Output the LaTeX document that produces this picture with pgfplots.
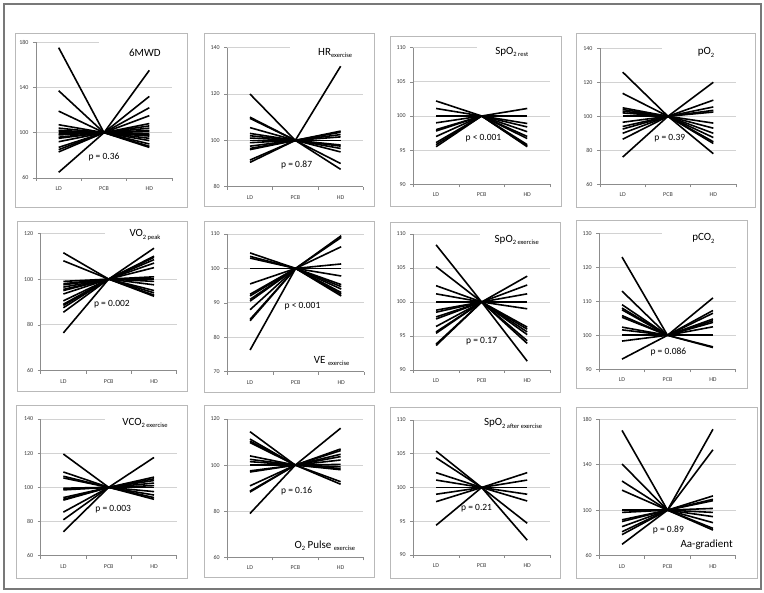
\documentclass[border=0pt]{standalone}
\usepackage{pgfplots}
\pgfplotsset{compat=1.18}
\usepackage{fontspec}
\setmainfont{Carlito}
\definecolor{axgray}{RGB}{140,140,140}
\definecolor{gridgray}{RGB}{210,210,210}
\definecolor{boxgray}{RGB}{185,185,185}
\definecolor{frame}{RGB}{120,120,120}
\definecolor{ticktext}{RGB}{60,60,60}
\newcommand{\sub}[1]{\raisebox{-0.45ex}{\fontsize{6.5}{7}\selectfont #1}}
\newcommand{\lines}[2]{%
  \pgfplotsinvokeforeach{#1}{\addplot[black, solid, line width=1.6pt, mark=none] coordinates {(1,##1) (2,100)};}%
  \pgfplotsinvokeforeach{#2}{\addplot[black, solid, line width=1.6pt, mark=none] coordinates {(2,100) (3,##1)};}}
\tikzset{
  pval/.style={font=\fontsize{9.5}{11}\selectfont},
  ttl/.style={font=\fontsize{11}{12}\selectfont},
}
\pgfplotsset{
  panel/.style={
    scale only axis, width=136pt, height=136pt, anchor=north west,
    xmin=0.5, xmax=3.5, xtick={1,2,3}, xticklabels={LD,PCB,HD},
    minor xtick={0.5,1.5,2.5,3.5},
    major x tick style={draw=none},
    minor x tick style={axgray, line width=0.6pt},
    minor tick length=3pt,
    y tick style={axgray, line width=0.6pt},
    major tick length=3pt,
    tick align=outside,
    axis x line*=bottom, axis y line*=left,
    axis line style={axgray, line width=0.8pt, -},
    ymajorgrids, grid style={gridgray, line width=0.8pt},
    /pgf/number format/assume math mode=true,
    ticklabel style={font=\fontsize{6}{7}\selectfont, text=ticktext},
    yticklabel style={xshift=-1pt},
    xticklabel style={yshift=-2pt},
    clip=false,
  },
}
\begin{document}
\begin{tikzpicture}
\path[fill=white] (0,0) rectangle (764pt,-593pt);
\draw[frame, line width=1.2pt] (4pt,-4pt) rectangle (761pt,-589pt);
% panel boxes
\begin{scope}[boxgray, line width=0.9pt]
\draw (15pt,-33pt) rectangle (187pt,-207pt);
\draw (204pt,-33pt) rectangle (374pt,-206pt);
\draw (390pt,-36pt) rectangle (561pt,-206pt);
\draw (576pt,-33pt) rectangle (755pt,-207pt);
\draw (17pt,-221pt) rectangle (187pt,-391pt);
\draw (204pt,-221pt) rectangle (374pt,-392pt);
\draw (390pt,-222pt) rectangle (560pt,-392pt);
\draw (576pt,-220pt) rectangle (747pt,-388pt);
\draw (16pt,-405pt) rectangle (187pt,-578pt);
\draw (204pt,-405pt) rectangle (374pt,-577pt);
\draw (390pt,-407pt) rectangle (560pt,-578pt);
\draw (576pt,-407pt) rectangle (757pt,-578pt);
\end{scope}

% 1: 6MWD
\begin{axis}[panel, at={(36pt,-42pt)}, height=136pt, ymin=60, ymax=180, ytick={60,100,140,180}]
\fill[white] ([yshift=-1.5pt]axis cs:1.88,180) rectangle ([yshift=1.5pt]axis cs:3.52,180);
\lines{175,137,119,107,104,102,101,100,99,98,96,95,92,87,85,83,65}{155,132,122,115,108,106,104,102,101,99,98,97,95,93,90,88,87}
\node[ttl] at (axis cs:2.9,170.3) {6MWD};
\node[pval] at (axis cs:2,78.5) {p = 0.36};
\end{axis}

% 2: HR exercise
\begin{axis}[panel, at={(227.3pt,-47.7pt)}, height=139pt, ymin=80, ymax=140, ytick={80,100,120,140}]
\fill[white] ([yshift=-1.5pt]axis cs:1.88,140) rectangle ([yshift=1.5pt]axis cs:3.52,140);
\lines{120,110,109.5,105.5,103,102,101,100,99,97.5,96.5,96,91.5,90.5}{132,104,103.5,102.5,101.5,100,98,97.5,96.5,95,90,87.5}
\node[ttl] at (axis cs:2.88,137.6) {HR\sub{exercise}};
\node[pval] at (axis cs:2.03,89.4) {p = 0.87};
\end{axis}

% 3: SpO2 rest
\begin{axis}[panel, at={(413.3pt,-47.7pt)}, width=136.7pt, height=136.6pt, ymin=90, ymax=110, ytick={90,95,100,105,110}]
\fill[white] ([yshift=-1.5pt]axis cs:1.89,110) rectangle ([yshift=1.5pt]axis cs:3.52,110);
\lines{102.2,101.1,100,99,98,97.8,97,96.1,95.8,95.5}{101.1,100,98.9,98.4,97.7,97,96.7,95.8,95.6,95.5}
\node[ttl] at (axis cs:2.66,109.4) {SpO\sub{2 rest}};
\node[pval] at (axis cs:2.04,96.7) {p < 0.001};
\end{axis}

% 4: pO2
\begin{axis}[panel, at={(600pt,-48.3pt)}, height=136pt, ymin=60, ymax=140, ytick={60,80,100,120,140}]
\fill[white] ([yshift=-1.5pt]axis cs:1.86,140) rectangle ([yshift=1.5pt]axis cs:3.52,140);
\lines{126,113.5,105,104,103,102,100,96.5,94,92.5,90,86.5,76}{120,109.5,105.5,103.5,102.5,96,93,90,87.5,85,84,78}
\node[ttl] at (axis cs:2.84,137.5) {pO\sub{2}};
\node[pval] at (axis cs:2.04,87.1) {p = 0.39};
\end{axis}

% 5: VO2 peak
\begin{axis}[panel, at={(40.7pt,-233.3pt)}, height=137.4pt, ymin=60, ymax=120, ytick={60,80,100,120}]
\fill[white] ([yshift=-1.5pt]axis cs:1.92,120) rectangle ([yshift=1.5pt]axis cs:3.52,120);
\lines{111.5,108,99,98,97.5,96.5,95.5,95,93.5,90.5,89,88.5,87.5,85.5,76.5}{113.5,110,109.5,108.5,107,105,101,100,99,97.5,95,94,93,92.5}
\node[ttl] at (axis cs:2.8,119.2) {VO\sub{2 peak}};
\node[pval] at (axis cs:2.07,89) {p = 0.002};
\end{axis}

% 6: VE exercise
\begin{axis}[panel, at={(227.3pt,-234pt)}, width=136.7pt, height=137.7pt, ymin=70, ymax=110, ytick={70,80,90,100,110}]
\lines{104.5,103.5,103,100,100,95.5,92.5,92,91,90.5,88,85.2,84.8,76.3}{109.5,109,106.3,101.3,100,97.8,95.3,94.7,94,93,92.5,92}
\node[ttl] at (axis cs:2.79,73.2) {VE \sub{exercise}};
\node[pval] at (axis cs:2.15,88.9) {p < 0.001};
\end{axis}

% 7: SpO2 exercise
\begin{axis}[panel, at={(413.3pt,-234pt)}, width=136.7pt, height=136pt, ymin=90, ymax=110, ytick={90,95,100,105,110}]
\fill[white] ([yshift=-1.5pt]axis cs:1.96,110) rectangle ([yshift=1.5pt]axis cs:3.52,110);
\lines{108.4,105.2,102.4,101.2,100,98.8,98.5,97.8,97.5,96.4,95.6,95.4,93.8,93.6}{103.8,102.5,101.2,100,99,96.3,96,95.6,95.2,94.3,93.9,91.3}
\node[ttl] at (axis cs:2.77,109.1) {SpO\sub{2 exercise}};
\node[pval] at (axis cs:2.0,94.3) {p = 0.17};
\end{axis}

% 8: pCO2
\begin{axis}[panel, at={(599.3pt,-233.3pt)}, width=136.4pt, height=136pt, ymin=90, ymax=130, ytick={90,100,110,120,130}]
\fill[white] ([yshift=-1.5pt]axis cs:1.87,130) rectangle ([yshift=1.5pt]axis cs:3.52,130);
\lines{123,113,109,108,107.5,105.8,105.3,102.4,101.6,100,98.3,93}{111,107.3,106.5,104.8,104.3,103.8,102.5,100,96.6,96.4}
\node[ttl] at (axis cs:2.79,128.5) {pCO\sub{2}};
\node[pval] at (axis cs:2.02,95.2) {p = 0.086};
\end{axis}

% 9: VCO2 exercise
\begin{axis}[panel, at={(40.7pt,-419pt)}, height=136.7pt, ymin=60, ymax=140, ytick={60,80,100,120,140}]
\fill[white] ([yshift=-1.5pt]axis cs:1.92,140) rectangle ([yshift=1.5pt]axis cs:3.52,140);
\lines{119.5,109,106.5,105.5,99.5,99,98.5,94,93,92.5,85.5,81,74}{117.5,106,105,104,102.5,101,100,97.5,95.5,94,93}
\node[ttl] at (axis cs:2.8,137.5) {VCO\sub{2 exercise}};
\node[pval] at (axis cs:2.1,87.3) {p = 0.003};
\end{axis}

% 10: O2 Pulse exercise
\begin{axis}[panel, at={(227.3pt,-419pt)}, height=138.3pt, ymin=60, ymax=120, ytick={60,80,100,120}]
\lines{114.5,111.3,110.4,109.8,104,102.5,101.5,100,97.5,97,91,88.7,88.3,79}{116,107,106.3,104.7,103.7,102.2,100.3,99.3,98.5,98,92.8,91.7}
\node[ttl] at (axis cs:2.65,64.9) {O\sub{2} Pulse \sub{exercise}};
\node[pval] at (axis cs:2.03,88.9) {p = 0.16};
\end{axis}

% 11: SpO2 after exercise
\begin{axis}[panel, at={(413.3pt,-420pt)}, width=136.7pt, height=135pt, ymin=90, ymax=110, ytick={90,95,100,105,110}]
\fill[white] ([yshift=-1.5pt]axis cs:1.74,110) rectangle ([yshift=1.5pt]axis cs:3.52,110);
\lines{105.4,104.4,102.2,101.1,100,99,97.9,94.4}{102.2,101.1,100,99,98,94.7,92.2}
\node[ttl] at (axis cs:2.69,109.5) {SpO\sub{2 after exercise}};
\node[pval] at (axis cs:1.89,96.9) {p = 0.21};
\end{axis}

% 12: Aa-gradient
\begin{axis}[panel, at={(599.3pt,-419pt)}, width=136.4pt, height=136.7pt, ymin=60, ymax=180, ytick={60,100,140,180}]
\lines{170,140.5,125.5,117.5,100,98,91.5,90,85.5,81,78.5,70}{171,153,112.5,109.5,108.3,101.5,98,94.3,89,84,82.5}
\node[ttl] at (axis cs:2.86,69.4) {Aa-gradient};
\node[pval] at (axis cs:2.02,82.5) {p = 0.89};
\end{axis}
\end{tikzpicture}
\end{document}
